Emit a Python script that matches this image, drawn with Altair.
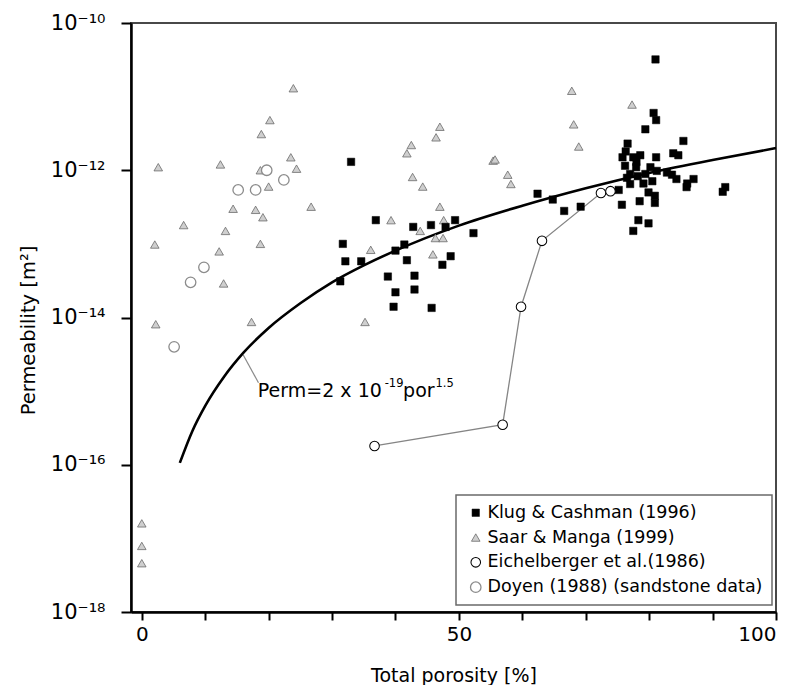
import altair as alt
import pandas as pd

# ---------------- data ----------------
series_names = ["Klug & Cashman (1996)", "Saar & Manga (1999)",
                "Eichelberger et al.(1986)", "Doyen (1988) (sandstone data)"]

klug_por = [33.0, 36.9, 42.8, 45.6, 47.9, 49.4, 52.3, 31.7, 41.4, 40.0, 32.1, 34.6,
            41.8, 48.7, 47.4, 31.3, 38.8, 43.0, 40.0, 43.0, 39.7, 45.7, 62.4,
            81.0, 80.7, 81.1, 79.4, 76.6, 85.4, 83.8, 84.6, 75.8, 77.5, 78.6, 81.1,
            76.2, 77.95, 77.0, 79.4, 81.2, 82.8, 83.6, 84.3, 87.0, 77.0, 79.1, 85.9,
            92.0, 91.6, 75.2, 79.9, 80.9, 80.9, 78.5, 75.7, 64.8, 66.6, 69.2, 78.3,
            79.9, 77.5, 76.3, 78.0, 80.2, 76.5, 78.2, 80.5, 86.0]
klug_perm = [1.3e-12, 2.1e-13, 1.7e-13, 1.8e-13, 1.7e-13, 2.1e-13, 1.4e-13, 1.0e-13,
             9.8e-14, 8.1e-14, 5.8e-14, 5.8e-14, 6.0e-14, 6.8e-14, 5.2e-14, 3.1e-14,
             3.6e-14, 3.7e-14, 2.2e-14, 2.4e-14, 1.4e-14, 1.35e-14, 4.8e-13,
             3.2e-11, 6.0e-12, 4.8e-12, 3.6e-12, 2.3e-12, 2.5e-12, 1.7e-12, 1.6e-12,
             1.5e-12, 1.5e-12, 1.6e-12, 1.5e-12, 1.15e-12, 1.1e-12, 8.9e-13, 8.9e-13,
             9.8e-13, 9.3e-13, 8.7e-13, 7.6e-13, 7.6e-13, 6.5e-13, 6.6e-13, 5.9e-13,
             5.9e-13, 5.1e-13, 5.4e-13, 5.0e-13, 4.5e-13, 3.6e-13, 3.8e-13, 3.4e-13,
             4.0e-13, 2.8e-13, 3.2e-13, 2.1e-13, 1.9e-13, 1.5e-13, 1.8e-12, 1.3e-12,
             1.1e-12, 7.9e-13, 8.3e-13, 7.1e-13, 6.6e-13]

saar_por = [23.9, 20.2, 18.85, 2.6, 12.4, 18.7, 23.5, 24.4, 20.0, 14.4, 17.95, 19.1,
            26.7, 6.6, 13.2, 2.05, 12.2, 18.7, 12.9, 2.2, 17.3, 47.0, 46.4, 42.5,
            41.8, 55.4, 55.7, 57.7, 58.2, 42.7, 44.3, 47.0, 39.3, 47.6, 43.9, 46.3,
            47.5, 36.1, 45.9, 35.2, 67.8, 77.3, 68.1, 68.9, 0.0, 0.0, 0.0]
saar_perm = [1.3e-11, 4.8e-12, 3.1e-12, 1.1e-12, 1.2e-12, 1.0e-12, 1.5e-12, 1.05e-12,
             6.0e-13, 3.0e-13, 2.9e-13, 2.3e-13, 3.2e-13, 1.8e-13, 1.5e-13, 9.8e-14,
             7.9e-14, 1.0e-13, 2.9e-14, 8.1e-15, 8.7e-15, 3.9e-12, 2.8e-12, 2.2e-12,
             1.7e-12, 1.35e-12, 1.4e-12, 8.7e-13, 6.5e-13, 8.1e-13, 6.0e-13, 3.2e-13,
             2.1e-13, 2.1e-13, 1.5e-13, 1.2e-13, 1.2e-13, 8.3e-14, 7.2e-14, 8.7e-15,
             1.2e-11, 7.8e-12, 4.2e-12, 2.1e-12, 1.6e-17, 7.9e-18, 4.6e-18]

eich_por = [36.7, 56.9, 59.8, 63.1, 72.4, 73.9]
eich_perm = [1.8e-16, 3.5e-16, 1.4e-14, 1.1e-13, 4.9e-13, 5.2e-13]

doyen_por = [19.7, 15.2, 17.95, 22.4, 9.8, 7.7, 5.1]
doyen_perm = [1.0e-12, 5.4e-13, 5.4e-13, 7.4e-13, 4.8e-14, 3.0e-14, 4.0e-15]

# fitted curve as drawn (Perm = 2e-19 * por^n)
fit_por = [6, 8, 10, 13, 16, 20, 25, 30, 35, 40, 50, 60, 70, 80, 90, 100]
fit_perm = [1.06e-16, 2.9e-16, 6.3e-16, 1.58e-15, 3.3e-15, 7.2e-15, 1.56e-14, 3.0e-14,
            5.1e-14, 8.1e-14, 1.77e-13, 3.3e-13, 5.7e-13, 9.2e-13, 1.38e-12, 2.0e-12]

x_ticks = [0, 10, 20, 30, 40, 50, 60, 70, 80, 90, 100]
y_ticks = [1e-18, 1e-16, 1e-14, 1e-12, 1e-10]

# ---------------- tables ----------------
rows = []
for name, xs, ys in [(series_names[1], saar_por, saar_perm),
                     (series_names[3], doyen_por, doyen_perm),
                     (series_names[0], klug_por, klug_perm),
                     (series_names[2], eich_por, eich_perm)]:
    for a, b in zip(xs, ys):
        rows.append({"por": a, "perm": b, "series": name})
pts = pd.DataFrame(rows)
eich_df = pd.DataFrame({"por": eich_por, "perm": eich_perm})
fit_df = pd.DataFrame({"por": fit_por, "perm": fit_perm})

FONT = "DejaVu Sans"

ylabel = ("round(log(datum.value)/LN10) == -10 ? '10\u207b\u00b9\u2070' : "
          "round(log(datum.value)/LN10) == -12 ? '10\u207b\u00b9\u00b2' : "
          "round(log(datum.value)/LN10) == -14 ? '10\u207b\u00b9\u2074' : "
          "round(log(datum.value)/LN10) == -16 ? '10\u207b\u00b9\u2076' : '10\u207b\u00b9\u2078'")

X = alt.X("por:Q",
          scale=alt.Scale(domain=[-1.7, 100], nice=False, zero=False),
          axis=alt.Axis(values=x_ticks, labelExpr="datum.value % 50 == 0 ? datum.label : ''",
                        title="Total porosity [%]", tickSize=8, tickWidth=2,
                        labelFontSize=20, labelPadding=4, titleFontSize=19,
                        titlePadding=22))
Y = alt.Y("perm:Q",
          scale=alt.Scale(type="log", domain=[1e-18, 1e-10], nice=False),
          axis=alt.Axis(values=y_ticks, labelExpr=ylabel, title="Permeability [m\u00b2]",
                        tickSize=10, tickWidth=2, labelFontSize=21, labelPadding=16,
                        titleFontSize=19.5, titleX=-103, titleY=307,
                        titleBaseline="middle"))

eich_line = alt.Chart(eich_df).mark_line(color="#858585", strokeWidth=1.3).encode(
    x=X, y=Y, order="por:Q")

fit_line = alt.Chart(fit_df).mark_line(color="black", strokeWidth=2.6,
                                       interpolate="monotone").encode(x=X, y=Y)

leader_df = pd.DataFrame({"por": [16.0], "perm": [3.1e-15], "por2": [18.4], "perm2": [1.3e-15]})
leader = alt.Chart(leader_df).mark_rule(color="#8a8a8a", strokeWidth=1.2).encode(
    x=X, y=Y, x2="por2:Q", y2="perm2:Q")

points = alt.Chart(pts).mark_point(filled=True, opacity=1).encode(
    x=X, y=Y,
    shape=alt.Shape("series:N", scale=alt.Scale(domain=series_names,
                    range=["square", "triangle-up", "circle", "circle"]),
                    legend=alt.Legend(title=None)),
    fill=alt.Fill("series:N", scale=alt.Scale(domain=series_names,
                  range=["black", "#cfcfcf", "white", "white"]),
                  legend=alt.Legend(title=None)),
    stroke=alt.Stroke("series:N", scale=alt.Scale(domain=series_names,
                      range=["black", "#666666", "black", "#8c8c8c"]),
                      legend=alt.Legend(title=None)),
    strokeWidth=alt.StrokeWidth("series:N", scale=alt.Scale(domain=series_names,
                                range=[0.5, 1.3, 2.6, 1.0]),
                                legend=alt.Legend(title=None)),
    size=alt.Size("series:N", scale=alt.Scale(domain=series_names,
                  range=[55, 110, 45, 70]),
                  legend=alt.Legend(title=None)),
)

ann_main = pd.DataFrame({"por": [18.3, 41.2], "perm": [8.3e-16, 8.3e-16],
                         "txt": ["Perm=2 x 10", "por"]})
ann_sup = pd.DataFrame({"por": [38.3, 46.3], "perm": [1.15e-15, 1.15e-15],
                        "txt": ["-19", "1.5"]})
txt_main = alt.Chart(ann_main).mark_text(font=FONT, fontSize=19, align="left",
                                         baseline="alphabetic", color="black").encode(
    x=X, y=Y, text="txt:N")
txt_sup = alt.Chart(ann_sup).mark_text(font=FONT, fontSize=11.5, align="left",
                                       baseline="alphabetic", color="black").encode(
    x=X, y=Y, text="txt:N")

chart = alt.layer(eich_line, fit_line, leader, points, txt_main, txt_sup).properties(
    width=645, height=589,
    autosize=alt.AutoSizeParams(type="none"),
    padding={"left": 123, "top": 15, "right": 4, "bottom": 73},
).configure_view(
    stroke="#484848", strokeWidth=2
).configure_axis(
    grid=False, domainColor="black", domainWidth=2.5, tickColor="black",
    labelColor="black", titleColor="black", labelFont=FONT, titleFont=FONT,
    titleFontWeight="normal"
).configure_legend(
    orient="none", legendX=325, legendY=472, fillColor="white",
    strokeColor="#6a6a6a", strokeWidth=1.5, padding=9, labelFont=FONT,
    labelFontSize=17.5, labelColor="black", rowPadding=5.8, labelOffset=3,
    labelLimit=400, symbolOffset=2
)

chart.save("out.html", embed_options={"renderer": "svg", "actions": False})
